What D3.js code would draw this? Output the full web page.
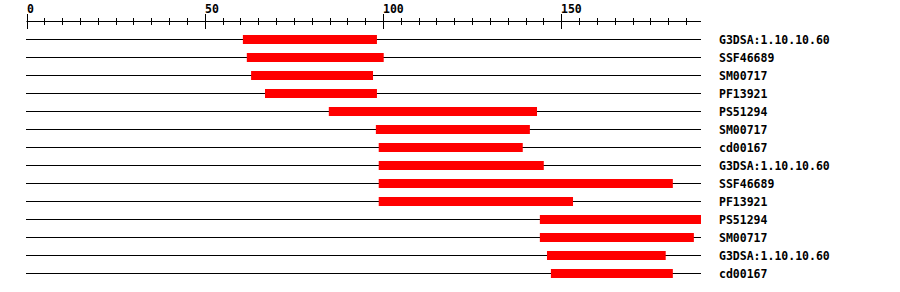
<!DOCTYPE html>
<html><head><meta charset="utf-8">
<script src="https://cdn.jsdelivr.net/npm/d3@7"></script>
<style>html,body{margin:0;padding:0;background:#fff;}svg{display:block;}</style>
</head><body>
<svg id="chart" width="900" height="292"></svg>
<script>
const labels = ["G3DSA:1.10.10.60","SSF46689","SM00717","PF13921","PS51294","SM00717","cd00167","G3DSA:1.10.10.60","SSF46689","PF13921","PS51294","SM00717","G3DSA:1.10.10.60","cd00167"];
const starts = [60.7, 61.8, 63, 66.9, 84.8, 98, 98.8, 98.8, 98.8, 98.8, 144, 144, 146, 147.1];
const ends   = [98.3, 100.2, 97.2, 98.3, 143.2, 141.2, 139.2, 145.1, 181.3, 153.3, 189.2, 187.2, 179.3, 181.3];
const seqLength = 189.2;
const majorTicks = [0, 50, 100, 150];
const minorTicks = d3.range(0, 190, 5);

const svg = d3.select("#chart");
const x = d3.scaleLinear().domain([0, seqLength]).range([26.5, 701]);
const y = d3.scaleBand().domain(d3.range(labels.length)).range([30.5, 282.5]);
const font = "'DejaVu Sans Mono', monospace";

// ruler
svg.append("line").attr("x1", x(0)).attr("x2", 701).attr("y1", 21.5).attr("y2", 21.5)
  .attr("stroke", "#000").attr("stroke-width", 1);
svg.selectAll(".minor").data(minorTicks).enter().append("line")
  .attr("x1", d => Math.round(x(d)) + 0.5).attr("x2", d => Math.round(x(d)) + 0.5)
  .attr("y1", d => majorTicks.includes(d) ? 14 : 18)
  .attr("y2", d => majorTicks.includes(d) ? 29 : 25)
  .attr("stroke", "#000").attr("stroke-width", 1);
svg.selectAll(".tl").data(majorTicks).enter().append("text")
  .attr("x", d => Math.round(x(d))).attr("y", 12.5)
  .attr("font-family", font).attr("font-weight", "bold").attr("font-size", "11.5px")
  .attr("fill", "#000").text(d => d);

const rows = svg.selectAll(".row").data(labels).enter().append("g");
rows.append("line")
  .attr("x1", 26).attr("x2", 701)
  .attr("y1", (d, i) => y(i) + y.bandwidth() / 2)
  .attr("y2", (d, i) => y(i) + y.bandwidth() / 2)
  .attr("stroke", "#000").attr("stroke-width", 1);
rows.append("rect")
  .attr("x", (d, i) => x(starts[i]))
  .attr("width", (d, i) => x(ends[i]) - x(starts[i]))
  .attr("y", (d, i) => y(i) + y.bandwidth() / 2 - 4.5)
  .attr("height", 9)
  .attr("fill", "#ff0000");
rows.append("text")
  .attr("x", 719)
  .attr("y", (d, i) => y(i) + y.bandwidth() / 2 + 4)
  .attr("font-family", font).attr("font-weight", "bold").attr("font-size", "11.5px")
  .attr("fill", "#000").text(d => d);
</script>
</body></html>
